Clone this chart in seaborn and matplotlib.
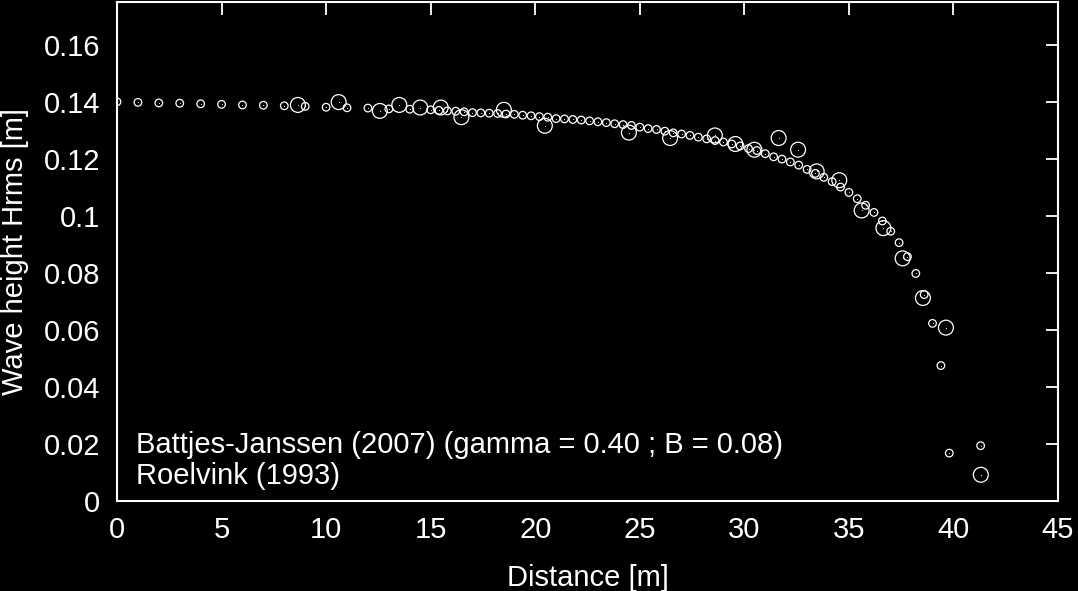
import matplotlib
matplotlib.use("Agg")
import matplotlib.pyplot as plt
import seaborn as sns
import numpy as np

# ---- data ----
bj_x = [0, 1, 2, 3, 4, 5, 6, 7, 8, 9, 10, 11, 12, 13, 14, 15,
        15.4, 15.8, 16.2, 16.6, 17.0, 17.4, 17.8, 18.2, 18.6, 19.0,
        19.4, 19.8, 20.2, 20.6, 21.0, 21.4, 21.8, 22.2, 22.6, 23.0,
        23.4, 23.8, 24.2, 24.6, 25.0, 25.4, 25.8, 26.2, 26.6, 27.0,
        27.4, 27.8, 28.2, 28.6, 29.0, 29.4, 29.8, 30.2, 30.6, 31.0,
        31.4, 31.8, 32.2, 32.6, 33.0, 33.4, 33.8, 34.2, 34.6, 35.0,
        35.4, 35.8, 36.2, 36.6, 37.0, 37.4, 37.8, 38.2, 38.6, 39.0,
        39.4, 39.8, 41.3]
bj_y = [0.1400, 0.1398, 0.1396, 0.1395, 0.1393, 0.1391, 0.1389, 0.1388, 0.1386, 0.1384,
        0.1381, 0.1379, 0.1378, 0.1375, 0.1374, 0.1372,
        0.1370, 0.1368, 0.1367, 0.1365, 0.1362, 0.1361, 0.1360, 0.1359, 0.1357, 0.1356,
        0.1353, 0.1351, 0.1348, 0.1346, 0.1341, 0.1340, 0.1338, 0.1336, 0.1333, 0.1330,
        0.1327, 0.1323, 0.1320, 0.1317, 0.1311, 0.1306, 0.1303, 0.1297, 0.1291, 0.1287,
        0.1282, 0.1276, 0.1270, 0.1264, 0.1259, 0.1252, 0.1245, 0.1236, 0.1229, 0.1218,
        0.1207, 0.1199, 0.1189, 0.1178, 0.1163, 0.1149, 0.1135, 0.1120, 0.1101, 0.1082,
        0.1060, 0.1037, 0.1012, 0.0982, 0.0946, 0.0906, 0.0857, 0.0798, 0.0724, 0.0623,
        0.0475, 0.0168, 0.0194]

rv_x = [8.65, 10.6, 12.57, 13.5, 14.5, 15.48, 16.47, 18.5, 20.46, 24.48, 26.45, 28.59,
        29.57, 30.48, 31.64, 32.57, 33.46, 34.54, 35.61, 36.65, 37.57, 38.54, 39.64, 41.31]
rv_y = [0.1389, 0.1399, 0.1368, 0.1389, 0.1380, 0.1380, 0.1346, 0.1372, 0.1316, 0.1292,
        0.1273, 0.1282, 0.1252, 0.1232, 0.1273, 0.1232, 0.1156, 0.1125, 0.1019, 0.0957,
        0.0851, 0.0712, 0.0608, 0.0092]

labels = ["Battjes-Janssen (2007) (gamma = 0.40 ; B = 0.08)", "Roelvink (1993)"]
x_ticks = [0, 5, 10, 15, 20, 25, 30, 35, 40, 45]
y_ticks = [0, 0.02, 0.04, 0.06, 0.08, 0.1, 0.12, 0.14, 0.16]
y_tick_labels = ["0", "0.02", "0.04", "0.06", "0.08", "0.1", "0.12", "0.14", "0.16"]

# ---- style ----
sns.set_style("dark", {"axes.facecolor": "black", "figure.facecolor": "black",
                       "axes.edgecolor": "white", "text.color": "white",
                       "axes.labelcolor": "white", "xtick.color": "white",
                       "ytick.color": "white", "axes.grid": False})
plt.rcParams["font.family"] = ["Liberation Sans", "DejaVu Sans"]
FS = 21

fig = plt.figure(figsize=(10.78, 5.91), dpi=100, facecolor="black")
ax = fig.add_axes([117 / 1078, 90 / 591, 941 / 1078, 499 / 591])
ax.set_facecolor("black")

sns.scatterplot(x=bj_x, y=bj_y, ax=ax, marker="o", s=30, facecolors="none",
                edgecolors="white", linewidths=0.9, zorder=3)
sns.scatterplot(x=bj_x, y=bj_y, ax=ax, marker="o", s=0.6, color="white",
                linewidth=0, zorder=3)
sns.scatterplot(x=rv_x, y=rv_y, ax=ax, marker="o", s=115, facecolors="none",
                edgecolors="white", linewidths=0.9, zorder=4)
sns.scatterplot(x=rv_x, y=rv_y, ax=ax, marker="o", s=0.6, color="white",
                linewidth=0, zorder=4)

ax.set_xlim(0, 45)
ax.set_ylim(0, 0.175)
ax.set_xticks(x_ticks)
ax.set_xticklabels([str(t) for t in x_ticks])
ax.set_yticks(y_ticks)
ax.set_yticklabels(y_tick_labels)
ax.tick_params(direction="in", length=9, width=1.3, labelsize=FS,
               colors="white", top=True, right=True)
ax.tick_params(axis="y", pad=12)
ax.tick_params(axis="x", pad=11)
for sp in ax.spines.values():
    sp.set_color("white")
    sp.set_linewidth(1.5)
    sp.set_visible(True)

ax.set_xlabel("Distance [m]", fontsize=FS, color="white", labelpad=14)
ax.set_ylabel("Wave height Hrms [m]", fontsize=FS, color="white", labelpad=11)

# key (text only, as in the reference)
key_y = [0.112, 0.050]
for lab, yy in zip(labels, key_y):
    ax.text(0.0202, yy, lab, transform=ax.transAxes, fontsize=FS, color="white",
            ha="left", va="center")

fig.savefig("out.png", dpi=100, facecolor="black")
